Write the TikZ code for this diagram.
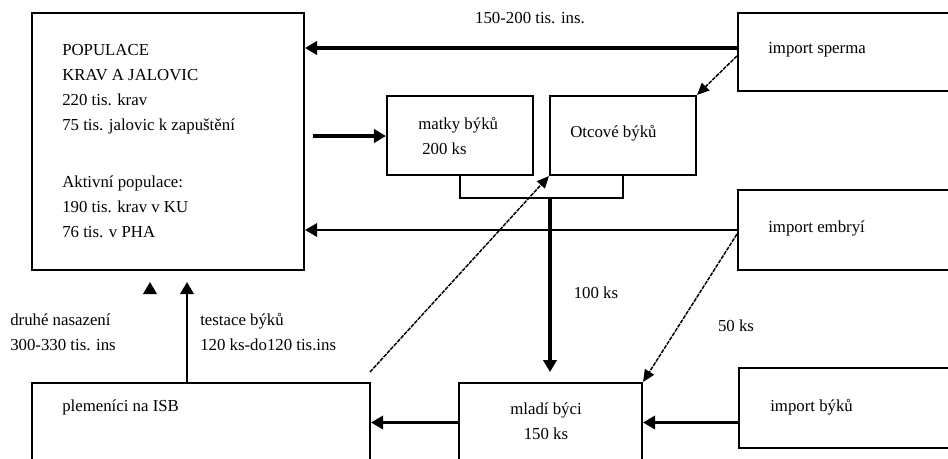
\documentclass[tikz,border=0pt]{standalone}
\usepackage{fontspec}
\setmainfont{Liberation Serif}
\usetikzlibrary{positioning, arrows.meta, fit, calc}

\begin{document}
\begin{tikzpicture}[
      x=0.75pt, y=-0.75pt,
      every node/.style={font=\fontsize{12.6}{18.75}\selectfont},
      box/.style={draw, line width=1.6pt, inner sep=0pt},
      txt/.style={inner sep=0pt, anchor=west, align=left},
      arr/.style={-{Triangle[length=9pt, width=10pt]}, line width=1.8pt},
      thickarr/.style={arr, line width=2.4pt},
      dasharr/.style={-{Triangle[length=9pt, width=8pt]}, line width=1.1pt, dash pattern=on 3pt off 0.8pt},
    ]
    \clip (0,0) rectangle (948,458);
    % Boxes
    \node[box, fit={(32,13) (304,270)}] (pop) {};
    \node[box, fit={(738,13) (962,91)}] (sperma) {};
    \node[box, fit={(738,190) (962,270)}] (embryi) {};
    \node[box, fit={(387,96) (533,175)}] (matky) {};
    \node[box, fit={(550,96) (696,175)}] (otcove) {};
    \node[box, fit={(459,383) (642,462)}] (mladi) {};
    \node[box, fit={(739,368) (962,448)}] (impbyku) {};
    \node[box, fit={(32,383) (370,462)}] (plemenici) {};

    % Texts
    \node[txt, anchor=north west] (poptext) at (62,44) {POPULACE\\KRAV A JALOVIC\\220 tis. krav\\75 tis. jalovic k zapuštění\\[24pt]Aktivní populace:\\190 tis. krav v KU\\76 tis. v PHA};
    \node[txt] (spermatext) at (768,50) {import sperma};
    \node[txt] (embryitext) at (768,228) {import embryí};
    \node[txt] (matkytext) at (418,136) {matky býků\\\hspace{3pt}200 ks};
    \node[txt] (otcovetext) at (570,133) {Otcové býků};
    \node[inner sep=0pt, align=center] (mladitext) at (546,421) {mladí býci\\150 ks};
    \node[txt] (impbykutext) at (770,407) {import býků};
    \node[txt] (plemtext) at (62,407) {plemeníci na ISB};
    \node[inner sep=0pt] (insemlabel) at (530,18) {150-200 tis. ins.};
    \node[inner sep=0pt] (stolabel) at (596,293) {100 ks};
    \node[inner sep=0pt] (padesatlabel) at (736,326) {50 ks};
    \node[txt] (nasazlabel) at (10,332) {druhé nasazení\\300-330 tis. ins};
    \node[txt] (testlabel) at (200,332) {testace býků\\120 ks-do120 tis.ins};

    % Free ends
    \coordinate (popout) at (313,136);
    \coordinate (mladiin) at (550,372);
    \coordinate (testin) at (187,282);
    \coordinate (nasazin) at (150,282);
    \coordinate (plemout) at (370,372);
    \coordinate (sperout) at ($(sperma.north west)!0.45!(sperma.south west)$);

    % Arrows
    \draw[thickarr] (sperout) -- (sperout -| pop.east);
    \draw[arr] (embryi.west) -- (embryi.west -| pop.east);
    \draw[thickarr] (popout) -- (popout -| matky.west);
    \draw[line width=1.6pt] (matky.south) -- ++(0,22) coordinate (brl) -| (otcove.south);
    \draw[thickarr] (brl -| mladiin) -- (mladiin);
    \draw[arr] (impbyku.west |- mladi.east) -- (mladi.east);
    \draw[arr] (mladi.west) -- (plemenici.east |- mladi.west);
    \draw[arr] (plemenici.north -| testin) -- (testin);
    \draw[arr] (nasazin |- 0,292) -- (nasazin);
    \draw[dasharr] ($(sperma.north west)!0.55!(sperma.south west)$) -- (otcove.north east);
    \draw[dasharr] ($(embryi.north west)!0.55!(embryi.south west)$) -- (mladi.north east);
    \draw[dasharr] (plemout) -- (otcove.south west);
  \end{tikzpicture}
\end{document}
